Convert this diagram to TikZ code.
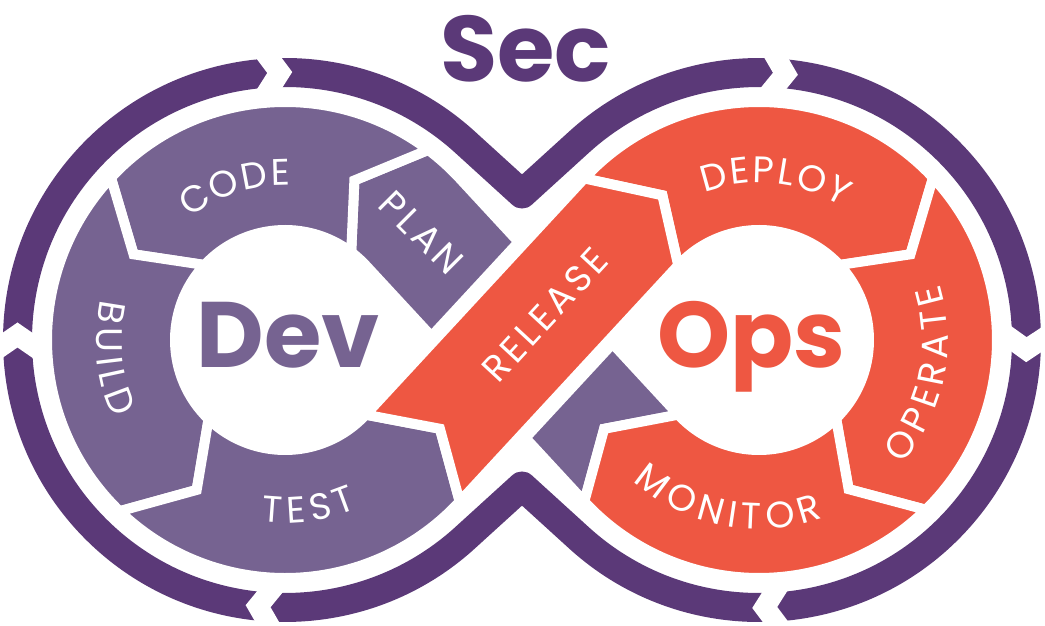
\documentclass[tikz,border=0pt]{standalone}
\usepackage{fontspec}
\newfontfamily\pop{Poppins}
\usetikzlibrary{calc}
\definecolor{ringpurple}{RGB}{91,57,120}
\definecolor{bandpurple}{RGB}{118,99,145}
\definecolor{bandred}{RGB}{238,87,66}
\newcommand\labelfont{\pop\fontsize{37}{37}\selectfont}
% letters along an arc: #1 centre, #2 radius, #3 mid angle, #4 orientation (1 tops out, -1 tops in), #5 tracking, #6 letters
\newcommand\arclbl[6]{%
  \begingroup\labelfont
  \gdef\lblsum{0}%
  \foreach \ch in {#6}{\pgfmathparse{\lblsum+width("\ch")+#5}\xdef\lblsum{\pgfmathresult}}%
  \pgfmathparse{-(\lblsum-#5)/2}\xdef\lblpos{\pgfmathresult}%
  \foreach \ch in {#6}{%
    \pgfmathsetmacro\lblw{width("\ch")}%
    \pgfmathsetmacro\lblang{#3-(#4)*deg((\lblpos+\lblw/2)/(#2))}%
    \pgfmathsetmacro\lblrot{\lblang-(#4)*90}%
    \node[lbl, rotate=\lblrot] at ($(#1)+(\lblang:#2)$) {\ch};
    \pgfmathparse{\lblpos+\lblw+#5}\xdef\lblpos{\pgfmathresult}}%
  \endgroup}
% letters along a straight line: #1 x, #2 y, #3 angle, #4 tracking, #5 letters
\newcommand\linelbl[5]{%
  \begingroup\labelfont
  \gdef\lblsum{0}%
  \foreach \ch in {#5}{\pgfmathparse{\lblsum+width("\ch")+#4}\xdef\lblsum{\pgfmathresult}}%
  \pgfmathparse{-(\lblsum-#4)/2}\xdef\lblpos{\pgfmathresult}%
  \foreach \ch in {#5}{%
    \pgfmathsetmacro\lblw{width("\ch")}%
    \pgfmathsetmacro\lbls{\lblpos+\lblw/2}%
    \node[lbl, rotate=#3] at ($(#1,#2)+(#3:\lbls)$) {\ch};
    \pgfmathparse{\lblpos+\lblw+#4}\xdef\lblpos{\pgfmathresult}}%
  \endgroup}
\begin{document}
\begin{tikzpicture}[x=1pt,y=1pt,
  seg/.style={draw=white, line width=10pt, line join=miter},
  purpseg/.style={seg, fill=bandpurple},
  redseg/.style={seg, fill=bandred},
  lbl/.style={text=white, inner sep=0pt, anchor=center},
  big/.style={font=\pop\bfseries\fontsize{93}{93}\selectfont, inner sep=0pt, anchor=base}]
\useasboundingbox (0,0) rectangle (1045,625);
\fill[white] (0,0) rectangle (1045,625);
\coordinate (L) at (285,285);
\coordinate (R) at (759,285);
\coordinate (M) at (522,285);
% outer ring
\draw[ringpurple, line width=29pt, line join=round]
  (522,431) -- (465.03,482.85) arc[start angle=47.7, end angle=312.3, radius=267.5pt]
  -- (522,139) -- (578.97,87.15) arc[start angle=227.7, end angle=492.3, radius=267.5pt] -- cycle;
% notches in the ring
\foreach \c/\a in {L/92.2, L/180, L/265.3, R/85.4, R/-1, R/272.3}{
  \fill[white, shift={($(\c)+(\a:267.5)$)}, rotate=\a-90]
    (-21.3,20) -- (-7.5,0) -- (-21.3,-20) -- (3.7,-20) -- (17.5,0) -- (3.7,20) -- cycle;
}
% key points of the crossing
\begin{scope}[shift={(M)}, rotate=-47.24]
  \coordinate (pc1) at (-74.2,64);
  \coordinate (pc2) at (-64.2,-64);
  \coordinate (qc1) at (64.2,64);
  \coordinate (qc2) at (74.2,-64);
  \coordinate (mtip) at (121,0);
  \coordinate (qo) at (160.9,-64);
  \coordinate (qi) at (160.9,64);
\end{scope}
\begin{scope}[shift={(M)}, rotate=47.24]
  \coordinate (ttip) at (-120.9,0);
  \coordinate (rlo) at (-160.9,-64);
  \coordinate (rli) at (-160.9,64);
  \coordinate (rro) at (160.9,64);
  \coordinate (rri) at (160.9,-64);
\end{scope}
\coordinate (reltip) at ($(R)+(123.74:174)$);
% left lobe
\begin{scope}[shift={(L)}]
  \path[purpseg] (pc1) -- (42.76:238) arc[start angle=42.76, end angle=53, radius=238pt]
    -- (66.5:174) -- (53:110) arc[start angle=53, end angle=42.76, radius=110pt] -- (pc2) -- cycle;
  \path[purpseg] (53:238) arc[start angle=53, end angle=137, radius=238pt]
    -- (150.5:174) -- (137:110) arc[start angle=137, end angle=53, radius=110pt] -- (66.5:174) -- cycle;
  \path[purpseg] (137:238) arc[start angle=137, end angle=226, radius=238pt]
    -- (239.5:174) -- (226:110) arc[start angle=226, end angle=137, radius=110pt] -- (150.5:174) -- cycle;
  \path[purpseg] (226:238) arc[start angle=226, end angle=317.24, radius=238pt]
    -- (ttip) -- (317.24:110) arc[start angle=317.24, end angle=226, radius=110pt] -- (239.5:174) -- cycle;
\end{scope}
% purple piece under the crossing
\path[purpseg] (qo) -- (qc2) -- (qc1) -- (qi) -- (mtip) -- cycle;
% right lobe
\begin{scope}[shift={(R)}]
  \path[redseg] (137.24:238) arc[start angle=137.24, end angle=43, radius=238pt]
    -- (29.5:174) -- (43:110) arc[start angle=43, end angle=137.24, radius=110pt] -- (123.74:174) -- cycle;
  \path[redseg] (43:238) arc[start angle=43, end angle=-45.5, radius=238pt]
    -- (-59:174) -- (-45.5:110) arc[start angle=-45.5, end angle=43, radius=110pt] -- (29.5:174) -- cycle;
  \path[redseg] (-45.5:238) arc[start angle=-45.5, end angle=-137.24, radius=238pt]
    -- (mtip) -- (-137.24:110) arc[start angle=-137.24, end angle=-45.5, radius=110pt] -- (-59:174) -- cycle;
\end{scope}
% release band on top
\path[redseg] (rlo) -- (rri) -- (reltip) -- (rro) -- (rli) -- (ttip) -- cycle;
% labels
\arclbl{L}{168}{108}{1}{4}{C,O,D,E}
\arclbl{L}{176}{186}{-1}{4}{B,U,I,L,D}
\arclbl{L}{170}{278}{-1}{4}{T,E,S,T}
\arclbl{R}{170}{84}{1}{4}{D,E,P,L,O,Y}
\arclbl{R}{176}{-12}{-1}{4}{O,P,E,R,A,T,E}
\arclbl{R}{176}{259}{-1}{4}{M,O,N,I,T,O,R}
\linelbl{421.5}{392.5}{-45}{4}{P,L,A,N}
\linelbl{545}{310}{47.24}{4}{R,E,L,E,A,S,E}
\node[big, text=bandpurple] (dev) at (288,258) {Dev};
\node[big, text=bandred] (ops) at (751.5,258) {Ops};
\node[big, text=ringpurple] (sec) at (525.5,543) {Sec};
\end{tikzpicture}
\end{document}
